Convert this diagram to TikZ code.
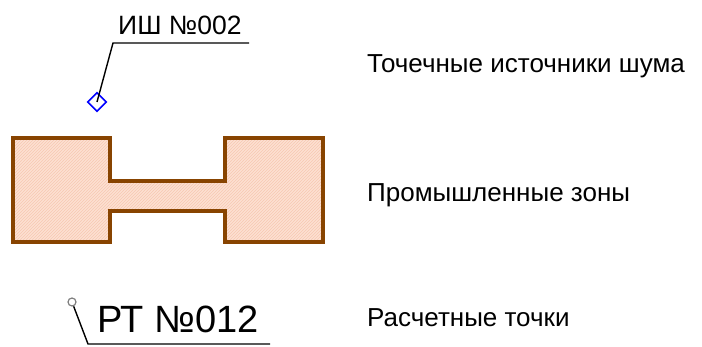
\documentclass[tikz,border=0pt]{standalone}
\usepackage{fontspec}
\setmainfont{Liberation Sans}
\usetikzlibrary{shapes.geometric, patterns}
\definecolor{zonebrown}{RGB}{136,68,0}
\definecolor{zonefill}{RGB}{253,224,210}
\definecolor{zonehatch}{RGB}{246,200,178}

\begin{document}
\begin{tikzpicture}[x=1pt, y=-1pt,
	legend/.style = {anchor=base west, inner sep=0pt, font=\fontsize{26}{30}\selectfont},
	leader/.style = {line width=1.4pt}]
	\useasboundingbox (0,0) rectangle (702,347);
	\draw [zonebrown, line width=3.5pt, preaction={fill=zonefill}, pattern=north east lines, pattern color=zonehatch] (13,138) -- (110,138) -- (110,181) -- (225,181) -- (225,138) -- (323,138) -- (323,242) -- (225,242) -- (225,211) -- (110,211) -- (110,242) -- (13,242) -- cycle;
	\node [diamond, draw=blue, line width=1.6pt, minimum size=19pt, inner sep=0pt] (src) at (97,102) {};
	\node [anchor=base west, inner sep=0pt, font=\fontsize{26.5}{30}\selectfont] (srcname) at (118,35) {ИШ №002};
	\coordinate (srcbend) at (113,43);
	\coordinate (srcend) at (249,43);
	\draw [leader] (src.center) -- (srcbend) -- (srcend);
	\node [circle, draw=gray, line width=1.2pt, minimum size=8pt, inner sep=0pt] (pt) at (72,302) {};
	\node [anchor=base west, inner sep=0pt, font=\fontsize{38}{42}\selectfont] (ptname) at (97,333) {РТ №012};
	\coordinate (ptbend) at (88,344);
	\coordinate (ptend) at (270,344);
	\draw [leader] (pt) -- (ptbend) -- (ptend);
	\node [legend] (lsrc) at (367,73) {Точечные источники шума};
	\node [legend] (lzone) at (367,202) {Промышленные зоны};
	\node [legend] (lpt) at (367,327) {Расчетные точки};
\end{tikzpicture}
\end{document}
